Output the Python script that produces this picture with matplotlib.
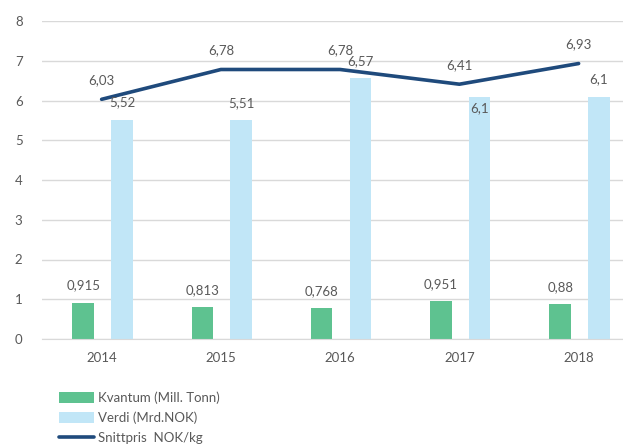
import matplotlib.pyplot as plt
import numpy as np

years = ["2014", "2015", "2016", "2017", "2018"]
kvantum = [0.915, 0.813, 0.768, 0.951, 0.88]
verdi = [5.52, 5.51, 6.57, 6.1, 6.1]
snittpris = [6.03, 6.78, 6.78, 6.41, 6.93]

GREEN = "#5ec290"
LIGHT = "#c1e6f7"
NAVY = "#1f4a7c"
TXT = "#595959"

plt.rcParams['font.family'] = ['Lato', 'DejaVu Sans']

fig = plt.figure(figsize=(6.23, 4.46), dpi=100)
ax = fig.add_axes([42/623, 1 - 339/446, 1 - 42/623, (339 - 21)/446])

x = np.arange(len(years))
w = 0.18
b1 = ax.bar(x - 0.155, kvantum, w, color=GREEN, label="Kvantum (Mill. Tonn)", zorder=2)
b2 = ax.bar(x + 0.17, verdi, w, color=LIGHT, label="Verdi (Mrd.NOK)", zorder=2)
ln, = ax.plot(x, snittpris, color=NAVY, lw=2.6, label="Snittpris  NOK/kg", zorder=3,
              solid_capstyle='round')

def fmt(v):
    return ("%g" % v).replace(".", ",")

for xi, v in zip(x, kvantum):
    ax.annotate(fmt(v), (xi - 0.155, v), xytext=(0, 11), textcoords='offset pixels',
                ha='center', va='bottom', fontsize=9.5, color=TXT)
# the 2017 label sits just under the bar top in the original
verdi_off = [11, 11, 11, -12, 11]
for xi, v, off in zip(x, verdi, verdi_off):
    ax.annotate(fmt(v), (xi + 0.17, v), xytext=(0, off), textcoords='offset pixels',
                ha='center', va='bottom' if off > 0 else 'center', fontsize=9.5, color=TXT,
                zorder=4)
for xi, v in zip(x, snittpris):
    ax.annotate(fmt(v), (xi, v), xytext=(0, 13), textcoords='offset pixels',
                ha='center', va='bottom', fontsize=9.5, color=TXT)

ax.set_ylim(0, 8)
ax.set_xlim(-0.5, (623 - 42) / 119.25 - 0.5)
ax.set_yticks(range(0, 9))
ax.set_xticks(x)
ax.set_xticklabels(years)
ax.tick_params(length=0, colors=TXT, labelsize=9.5)
ax.tick_params(axis='x', pad=9)
ax.tick_params(axis='y', pad=14)
ax.grid(axis='y', color="#d9d9d9", lw=1, zorder=0)
ax.set_axisbelow(True)
for s in ax.spines.values():
    s.set_visible(False)
ax.spines['bottom'].set_visible(True)
ax.spines['bottom'].set_color("#d9d9d9")

leg = fig.legend(handles=[b1, b2, ln], loc='upper left', bbox_to_anchor=(54/623, 1 - 386/446),
                 frameon=False, fontsize=9.5, handlelength=2.6, handleheight=0.9,
                 labelspacing=0.6, handletextpad=0.3, borderaxespad=0)
for t in leg.get_texts():
    t.set_color(TXT)

fig.savefig("out.png", dpi=100)
